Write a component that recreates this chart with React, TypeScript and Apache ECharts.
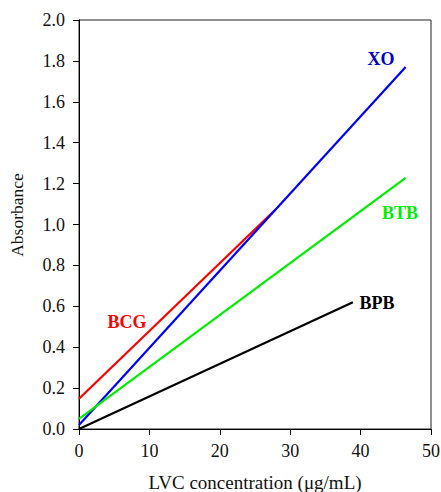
import React, { useEffect, useRef } from "react";
import * as echarts from "echarts";

const seriesNames = ["BCG", "XO", "BTB", "BPB"];
const seriesColors = ["#ff0000", "#0000ff", "#00ee00", "#000000"];
const bcg = [[0, 0.148], [27.8, 1.07]];
const xo = [[0, 0.02], [46.4, 1.77]];
const btb = [[0, 0.05], [46.4, 1.228]];
const bpb = [[0, 0.0], [38.9, 0.62]];
const xTicks = [0, 10, 20, 30, 40, 50];
const yTicks = [0, 0.2, 0.4, 0.6, 0.8, 1.0, 1.2, 1.4, 1.6, 1.8, 2.0];

export default function App() {
  const ref = useRef<HTMLDivElement>(null);
  useEffect(() => {
    if (!ref.current) return;
    const chart = echarts.init(ref.current, null, { renderer: "svg" });
    const font = "Liberation Serif";
    const data = [bcg, xo, btb, bpb];
    chart.setOption({
      animation: false,
      backgroundColor: "#ffffff",
      textStyle: { fontFamily: font },
      grid: {
        left: 79, top: 20, right: 10, bottom: 63,
        outerBoundsMode: "none", containLabel: false,
        show: true, borderColor: "#222", borderWidth: 1,
      },
      xAxis: {
        type: "value",
        min: xTicks[0],
        max: xTicks[xTicks.length - 1],
        interval: 10,
        name: "LVC concentration (μg/mL)",
        nameLocation: "middle",
        nameGap: 44,
        nameTextStyle: { fontFamily: font, fontSize: 19, color: "#111" },
        axisLine: { show: true, onZero: false, lineStyle: { color: "#000", width: 1 } },
        axisTick: { show: true, inside: false, length: 6, lineStyle: { color: "#000" } },
        axisLabel: { fontFamily: font, fontSize: 18, color: "#111", margin: 13 },
        splitLine: { show: false },
      },
      yAxis: {
        type: "value",
        min: yTicks[0],
        max: yTicks[yTicks.length - 1],
        interval: 0.2,
        axisLine: { show: true, lineStyle: { color: "#000", width: 1 } },
        axisTick: { show: true, inside: false, length: 6, lineStyle: { color: "#000" } },
        axisLabel: {
          fontFamily: font,
          fontSize: 18,
          color: "#111",
          margin: 14,
          formatter: (v: number) => v.toFixed(1),
        },
        splitLine: { show: false },
      },
      series: seriesNames.map((n, i) => ({
        name: n,
        type: "line",
        data: data[i],
        symbol: "none",
        lineStyle: { color: seriesColors[i], width: 2.2 },
        z: i === 0 ? 2 : 3,
      })),
      graphic: [
        {
          type: "text", x: 17, y: 215, rotation: Math.PI / 2,
          style: { text: "Absorbance", fill: "#111", font: `17.5px ${font}`, align: "center", verticalAlign: "middle" },
        },
        { type: "text", x: 381, y: 59, style: { text: "XO", fill: "#0000cc", font: `bold 18px ${font}`, align: "center", verticalAlign: "middle" } },
        { type: "text", x: 400, y: 213, style: { text: "BTB", fill: "#00ee00", font: `bold 18px ${font}`, align: "center", verticalAlign: "middle" } },
        { type: "text", x: 377, y: 303, style: { text: "BPB", fill: "#000", font: `bold 18px ${font}`, align: "center", verticalAlign: "middle" } },
        { type: "text", x: 127, y: 322, style: { text: "BCG", fill: "#ff0000", font: `bold 18px ${font}`, align: "center", verticalAlign: "middle" } },
      ],
    });
    return () => chart.dispose();
  }, []);
  return <div ref={ref} style={{ position: "fixed", left: 0, top: 0, width: 441, height: 492 }} />;
}
